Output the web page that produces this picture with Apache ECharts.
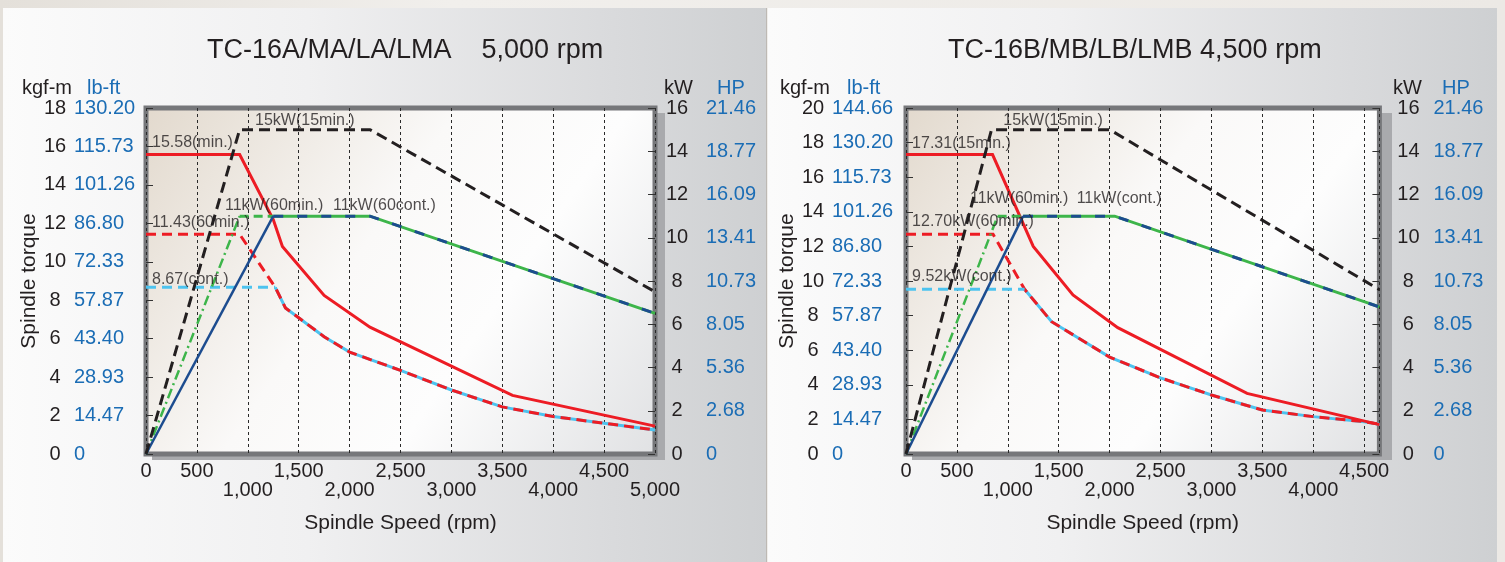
<!DOCTYPE html>
<html><head><meta charset="utf-8">
<script src="https://cdn.jsdelivr.net/npm/echarts/dist/echarts.min.js"></script>
<style>
html,body{margin:0;padding:0}
body{width:1505px;height:562px;overflow:hidden;position:relative;background:linear-gradient(90deg,#e4e0da 0%,#f1efec 30%,#ece9e5 100%)}
.panel{position:absolute;top:8px;height:554px;background:linear-gradient(90deg,#fbfbfb 0%,#f0f0f1 40%,#d9dadc 80%,#ced0d2 100%)}
#p1{left:3px;width:763px;border-right:1px solid #bdb9b4}
#p2{left:768px;width:729px}
.shadow{position:absolute;background:#a9aaad}
#s1{left:152px;top:113px;width:513px;height:347px}
#s2{left:912px;top:113px;width:480px;height:347px}
#chart{position:absolute;left:0;top:0;width:1505px;height:562px}
</style></head>
<body>
<div class="panel" id="p1"></div>
<div class="panel" id="p2"></div>
<div class="shadow" id="s1"></div>
<div class="shadow" id="s2"></div>
<div id="chart"></div>
<script>
// ---------- data: chart A (5,000 rpm) ----------
const titleA = 'TC-16A/MA/LA/LMA    5,000 rpm';
const xTicksA = [0,500,1000,1500,2000,2500,3000,3500,4000,4500,5000];
const xLabelsA = ['0','500','1,000','1,500','2,000','2,500','3,000','3,500','4,000','4,500','5,000'];
const torqueTicksA = [0,2,4,6,8,10,12,14,16,18];
const lbftLabelsA = ['0','14.47','28.93','43.40','57.87','72.33','86.80','101.26','115.73','130.20'];
const kwTicks = [0,2,4,6,8,10,12,14,16];
const hpLabels = ['0','2.68','5.36','8.05','10.73','13.41','16.09','18.77','21.46'];

const blackA = [[0,0],[920,15],[2200,15],[5000,7.5]];
const greenRiseA = [[0,0],[920,11]];
const greenFlatA = [[920,11],[1250,11]];
const greenSolidA = [[1250,11],[2200,11],[5000,6.5]];
const blueRiseA = [[0,0],[1250,11]];
const blueDashA = [[1250,11],[2200,11],[5000,6.5]];
const redSolidA = [[0,15.58],[920,15.58],[1250,12.2],[1340,10.8],[1750,8.25],[2200,6.6],[3600,3.05],[5000,1.45]];
const redDashA = [[0,11.43],[920,11.43],[1270,8.67],[1370,7.6],[1750,6.1],[2000,5.3],[2500,4.35],[3000,3.33],[3500,2.45],[4000,1.95],[4500,1.6],[5000,1.25]];
const cyanFlatA = [[0,8.67],[1270,8.67]];
const cyanCurveA = [[1270,8.67],[1370,7.6],[1750,6.1],[2000,5.3],[2500,4.35],[3000,3.33],[3500,2.45],[4000,1.95],[4500,1.6],[5000,1.25]];

const annTorqueTextA = ['15.58(min.)','11.43(60min.)','8.67(cont.)'];
const annTorqueAtA = [[59,16.2],[59,12.05],[59,9.06]];
const annKwTextA = ['15kW(15min.)','11kW(60min.)','11kW(60cont.)'];
const annKwAtA = [[1071,15.42],[776,11.5],[1837,11.5]];

// ---------- data: chart B (4,500 rpm) ----------
const titleB = 'TC-16B/MB/LB/LMB 4,500 rpm';
const xTicksB = [0,500,1000,1500,2000,2500,3000,3500,4000,4500];
const xLabelsB = ['0','500','1,000','1,500','2,000','2,500','3,000','3,500','4,000','4,500'];
const torqueTicksB = [0,2,4,6,8,10,12,14,16,18,20];
const lbftLabelsB = ['0','14.47','28.93','43.40','57.87','72.33','86.80','101.26','115.73','130.20','144.66'];

const blackB = [[0,0],[840,15],[2000,15],[4650,7.6]];
const greenRiseB = [[0,0],[900,11]];
const greenFlatB = [[900,11],[1150,11]];
const greenSolidB = [[1150,11],[2050,11],[4650,6.8]];
const blueRiseB = [[0,0],[1150,11]];
const blueDashB = [[1150,11],[2050,11],[4650,6.8]];
const redSolidB = [[0,17.31],[850,17.31],[1250,12.0],[1640,9.2],[2080,7.3],[3350,3.5],[4650,1.7]];
const redDashB = [[0,12.70],[855,12.70],[1165,9.52],[1430,7.65],[2000,5.6],[2500,4.4],[3000,3.41],[3500,2.54],[4000,2.16],[4500,1.87],[4650,1.72]];
const cyanFlatB = [[0,9.52],[1165,9.52]];
const cyanCurveB = [[1165,9.52],[1430,7.65],[2000,5.6],[2500,4.4],[3000,3.41],[3500,2.54],[4000,2.16],[4500,1.87],[4650,1.72]];

const annTorqueTextB = ['17.31(15min.)','12.70kW(60min.)','9.52kW(cont.)'];
const annTorqueAtB = [[60,17.92],[60,13.43],[60,10.25]];
const annKwTextB = ['15kW(15min.)','11kW(60min.)','11kW(cont.)'];
const annKwAtB = [[956,15.42],[628,11.8],[1676,11.8]];

// ---------- styling / building ----------
const FONT = "'Liberation Sans', Arial, Helvetica, sans-serif";
const BLACK='#231f20', BLUE='#1b6db5', RED='#ed1c24', GREEN='#3db54a', NAVY='#1c4c8f', CYAN='#4dc3ef';

const plotBg = {type:'linear',x:0,y:0,x2:1,y2:1,colorStops:[
  {offset:0,color:'#e2d9cd'},{offset:0.42,color:'#faf9f8'},{offset:0.65,color:'#fdfdfd'},{offset:1,color:'#e0e1e3'}]};

function gridOpt(left, width){
  return {left, top:108, width, height:346, show:true, backgroundColor:plotBg,
    borderColor:'#76777a', borderWidth:5};
}
function xAxisOpt(gi, max, ticks, labels, showMax, nameGap){
  return {gridIndex:gi, type:'value', min:0, max, interval:500,
    axisLine:{show:false}, axisTick:{show:false},
    splitLine:{show:true, lineStyle:{type:[3,3], color:'#2a2a2a', width:1}},
    axisLabel:{showMaxLabel:showMax, margin:8, fontSize:20, lineHeight:19, color:BLACK, fontFamily:FONT,
      formatter:v=>{const i=ticks.indexOf(v); if(i<0) return ''; return (i>0 && i%2===0 ? '\n' : '') + labels[i];}},
    name:'Spindle Speed (rpm)', nameLocation:'middle', nameGap,
    nameTextStyle:{fontSize:21, color:BLACK, fontFamily:FONT, verticalAlign:'middle'}};
}
function torqueAxisOpt(gi, max, ticks, labels, margin, nameGap){
  return {gridIndex:gi, type:'value', min:0, max, interval:2, position:'left',
    axisLine:{show:false}, splitLine:{show:false},
    axisTick:{show:true, inside:true, length:7, lineStyle:{color:'#333', width:1}},
    axisLabel:{align:'left', margin,
      formatter:v=>{const i=ticks.indexOf(v); return i<0 ? '' : '{k|'+v+'}{l|'+labels[i]+'}';},
      rich:{k:{width:30, align:'center', fontSize:20, color:BLACK, fontFamily:FONT},
            l:{padding:[0,0,0,4], fontSize:20, color:BLUE, fontFamily:FONT}}},
    name:'Spindle torque', nameLocation:'middle', nameRotate:90, nameGap,
    nameTextStyle:{fontSize:21, color:BLACK, fontFamily:FONT, verticalAlign:'middle', align:'center'}};
}
function kwAxisOpt(gi, margin, pad){
  return {gridIndex:gi, type:'value', min:0, max:16, interval:2, position:'right',
    axisLine:{show:false}, splitLine:{show:false},
    axisTick:{show:true, inside:true, length:7, lineStyle:{color:'#333', width:1}},
    axisLabel:{align:'left', margin,
      formatter:v=>{const i=kwTicks.indexOf(v); return i<0 ? '' : '{k|'+v+'}{l|'+hpLabels[i]+'}';},
      rich:{k:{width:24, align:'center', fontSize:20, color:BLACK, fontFamily:FONT},
            l:{padding:[0,0,0,pad], fontSize:20, color:BLUE, fontFamily:FONT}}}};
}
function ln(xi, yi, data, color, width, type){
  return {type:'line', xAxisIndex:xi, yAxisIndex:yi, data, symbol:'none', showSymbol:false,
    lineStyle:{color, width, type, cap:'butt', join:'miter'}, silent:true, animation:false, z:3};
}
function ann(xi, yi, texts, at){
  return {type:'scatter', xAxisIndex:xi, yAxisIndex:yi, symbolSize:0, silent:true, animation:false, z:6,
    data: texts.map((t,i)=>({name:t, value:at[i]})),
    label:{show:true, position:'right', distance:0, formatter:'{b}', fontSize:16, color:BLACK, fontFamily:FONT}};
}
function seriesFor(xi, ty, ky, d){
  return [
    ln(xi, ty, d.cyanCurve, CYAN, 3, 'solid'),
    ln(xi, ty, d.redDash, RED, 3, [10,6]),
    ln(xi, ty, d.cyanFlat, CYAN, 3, [10,6]),
    ln(xi, ty, d.redSolid, RED, 3, 'solid'),
    ln(xi, ky, d.greenRise, GREEN, 2.5, [10,4,2,4]),
    ln(xi, ky, d.greenFlat, GREEN, 3, [9,5]),
    ln(xi, ky, d.greenSolid, GREEN, 3, 'solid'),
    ln(xi, ky, d.blueDash, NAVY, 3, [10,14]),
    ln(xi, ky, d.blueRise, NAVY, 2.5, 'solid'),
    ln(xi, ky, d.black, BLACK, 3, [11,6]),
    ann(xi, ty, d.annTT, d.annTA),
    ann(xi, ky, d.annKT, d.annKA)
  ];
}

const chart = echarts.init(document.getElementById('chart'), null, {renderer:'canvas'});
const unit = (t, left, color)=>({type:'text', left, top:78, silent:true,
  style:{text:t, fontSize:20, fontFamily:FONT, fill:color}});

chart.setOption({
  animation:false,
  textStyle:{fontFamily:FONT},
  title:[
    {text:titleA, left:207, top:37, padding:0, textStyle:{fontSize:27, fontWeight:'normal', color:BLACK, fontFamily:FONT}},
    {text:titleB, left:948, top:37, padding:0, textStyle:{fontSize:27, fontWeight:'normal', color:BLACK, fontFamily:FONT}}
  ],
  graphic:[
    unit('kgf-m',22,BLACK), unit('lb-ft',87,BLUE), unit('kW',664,BLACK), unit('HP',717,BLUE),
    unit('kgf-m',780,BLACK), unit('lb-ft',847,BLUE), unit('kW',1393,BLACK), unit('HP',1442,BLUE)
  ],
  grid:[gridOpt(146,509), gridOpt(906,473.4)],
  xAxis:[xAxisOpt(0,5000,xTicksA,xLabelsA,true,69), xAxisOpt(1,4650,xTicksB,xLabelsB,false,69)],
  yAxis:[torqueAxisOpt(0,18,torqueTicksA,lbftLabelsA,106,110), kwAxisOpt(0,10,17),
         torqueAxisOpt(1,20,torqueTicksB,lbftLabelsB,108,116), kwAxisOpt(1,17,13)],
  series:[
    ...seriesFor(0,0,1,{cyanCurve:cyanCurveA, redDash:redDashA, cyanFlat:cyanFlatA, redSolid:redSolidA,
      greenRise:greenRiseA, greenFlat:greenFlatA, greenSolid:greenSolidA, blueDash:blueDashA, blueRise:blueRiseA,
      black:blackA, annTT:annTorqueTextA, annTA:annTorqueAtA, annKT:annKwTextA, annKA:annKwAtA}),
    ...seriesFor(1,2,3,{cyanCurve:cyanCurveB, redDash:redDashB, cyanFlat:cyanFlatB, redSolid:redSolidB,
      greenRise:greenRiseB, greenFlat:greenFlatB, greenSolid:greenSolidB, blueDash:blueDashB, blueRise:blueRiseB,
      black:blackB, annTT:annTorqueTextB, annTA:annTorqueAtB, annKT:annKwTextB, annKA:annKwAtB})
  ]
});
</script>
</body></html>
